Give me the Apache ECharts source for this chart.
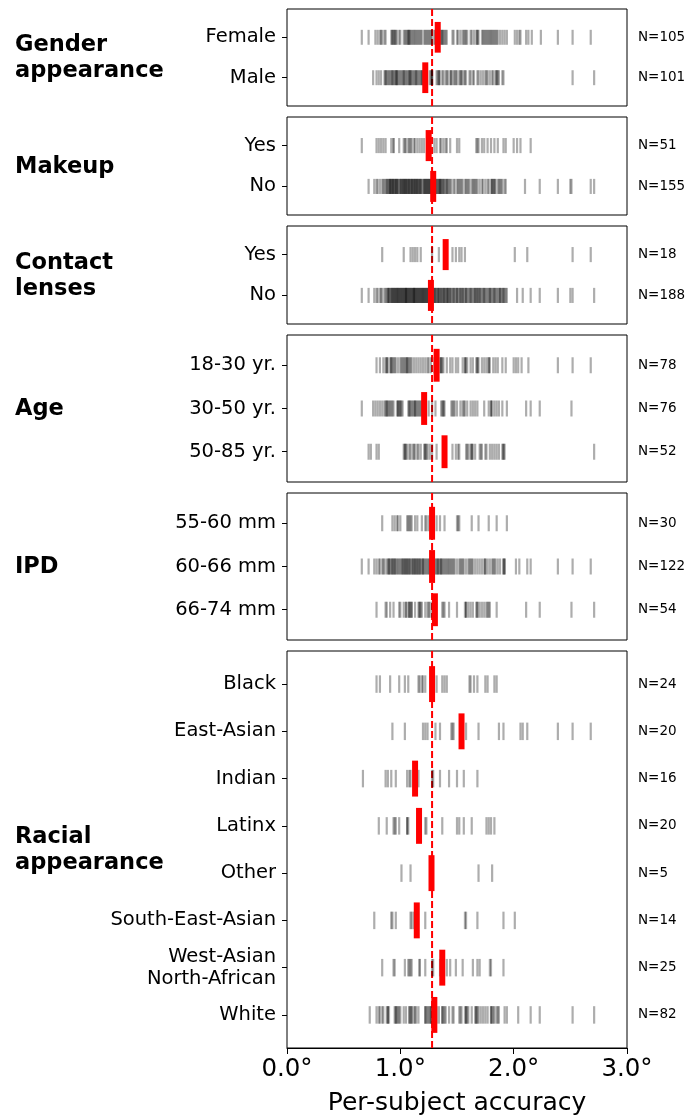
<!DOCTYPE html>
<html><head><meta charset="utf-8">
<script src="https://cdn.jsdelivr.net/npm/echarts@6/dist/echarts.min.js"></script>
<style>html,body{margin:0;padding:0;background:#fff}#chart{width:697px;height:1120px}</style>
</head><body><div id="chart"></div>
<script>
// ---------- data ----------
const groupTitles = ['Gender\nappearance', 'Makeup', 'Contact\nlenses', 'Age', 'IPD', 'Racial\nappearance'];
const genderCats = ['Female', 'Male'];
const makeupCats = ['Yes', 'No'];
const contactCats = ['Yes', 'No'];
const ageCats = ['18-30 yr.', '30-50 yr.', '50-85 yr.'];
const ipdCats = ['55-60 mm', '60-66 mm', '66-74 mm'];
const racialCats = ['Black', 'East-Asian', 'Indian', 'Latinx', 'Other', 'South-East-Asian', 'West-Asian\nNorth-African', 'White'];

const genderNs = [105, 101];
const makeupNs = [51, 155];
const contactNs = [18, 188];
const ageNs = [78, 76, 52];
const ipdNs = [30, 122, 54];
const racialNs = [24, 20, 16, 20, 5, 14, 25, 82];

const genderMeans = [1.33, 1.22];
const makeupMeans = [1.25, 1.29];
const contactMeans = [1.40, 1.27];
const ageMeans = [1.32, 1.21, 1.39];
const ipdMeans = [1.28, 1.28, 1.305];
const racialMeans = [1.28, 1.54, 1.13, 1.165, 1.275, 1.145, 1.37, 1.30];
const overallMean = 1.28;

const xTickLabels = ['0.0°', '1.0°', '2.0°', '3.0°'];
const xAxisTitle = 'Per-subject accuracy';

const femaleVals = [0.66,0.72,0.78,0.80,0.82,0.83,0.84,0.86,0.87,0.92,0.93,0.93,0.94,0.95,0.96,0.97,0.99,1.00,1.03,1.04,
1.06,1.07,1.07,1.08,1.09,1.10,1.11,1.12,1.14,1.15,1.16,1.17,1.19,1.21,1.22,1.23,1.24,1.25,1.26,1.27,
1.28,1.30,1.31,1.33,1.35,1.36,1.37,1.37,1.38,1.40,1.41,1.46,1.47,1.50,1.51,1.53,1.55,1.56,1.57,1.58,
1.59,1.62,1.63,1.65,1.67,1.68,1.68,1.69,1.72,1.73,1.74,1.76,1.77,1.78,1.79,1.80,1.81,1.82,1.83,1.85,
1.86,1.88,1.90,1.92,1.94,2.01,2.03,2.05,2.06,2.11,2.13,2.16,2.24,2.39,2.52,2.68,0.95,1.05,1.08,1.13,
1.18,1.34,1.39,1.75,1.84];
const maleVals = [0.76,0.79,0.81,0.83,0.86,0.87,0.88,0.89,0.90,0.91,0.92,0.93,0.94,0.95,0.96,0.97,0.98,0.99,1.00,1.01,
1.02,1.03,1.04,1.05,1.07,1.08,1.08,1.09,1.10,1.12,1.13,1.14,1.15,1.16,1.17,1.18,1.19,1.20,1.21,1.26,
1.27,1.28,1.28,1.32,1.33,1.34,1.35,1.37,1.38,1.40,1.41,1.42,1.44,1.45,1.47,1.48,1.49,1.50,1.52,1.53,
1.54,1.56,1.57,1.58,1.61,1.62,1.64,1.65,1.68,1.69,1.71,1.73,1.75,1.76,1.77,1.79,1.81,1.82,1.84,1.85,
1.86,1.87,1.90,1.91,2.52,2.71,0.87,0.93,0.96,0.97,1.03,1.06,1.09,1.11,1.14,1.19,1.28,1.34,1.45,1.54,1.85];

const makeupYesVals = [0.66,0.79,0.81,0.83,0.85,0.87,0.92,0.94,0.94,0.99,1.03,1.04,1.05,1.07,1.08,1.09,1.12,1.13,1.15,1.17,
1.19,1.21,1.24,1.26,1.30,1.32,1.35,1.38,1.40,1.41,1.44,1.50,1.52,1.67,1.68,1.69,1.72,1.74,1.77,1.80,
1.83,1.86,1.91,1.93,2.00,2.03,2.06,2.15,1.10,1.36,1.25];
const makeupNoVals = [0.72,0.77,0.79,0.80,0.82,0.84,0.85,0.86,0.871,0.884,0.893,0.905,0.912,0.921,0.933,0.938,0.951,0.962,0.968,0.981,
0.993,1.002,1.011,1.024,1.031,1.043,1.048,1.061,1.072,1.079,1.091,1.103,1.108,1.122,1.131,1.142,1.149,1.161,1.172,1.181,
0.90,0.92,0.95,0.97,1.00,1.02,1.05,1.07,1.09,1.12,1.15,1.18,0.93,1.03,1.10,1.20,1.21,1.22,1.23,1.24,
1.25,1.26,1.27,1.28,1.22,1.25,1.30,1.31,1.32,1.33,1.34,1.35,1.36,1.37,1.38,1.39,1.40,1.41,1.42,1.43,
1.44,1.45,1.32,1.35,1.38,1.41,1.47,1.48,1.50,1.51,1.53,1.54,1.55,1.57,1.58,1.60,1.61,1.63,1.64,1.65,
1.67,1.68,1.70,1.52,1.59,1.66,1.72,1.73,1.75,1.77,1.78,1.80,1.81,1.82,1.83,1.84,1.86,1.87,1.89,1.90,
1.92,1.93,1.81,1.83,1.88,2.10,2.23,2.39,2.50,2.51,2.68,2.71,0.88,0.91,0.94,0.96,0.98,1.01,1.04,1.06,
1.08,1.11,1.13,1.14,1.16,1.17,1.19,1.21,1.23,1.24,1.26,1.27,1.29,1.34,1.36];

const contactYesVals = [0.84,1.03,1.09,1.11,1.13,1.15,1.18,1.28,1.34,1.46,1.49,1.52,1.54,1.57,2.01,2.12,2.52,2.68];
const contactNoVals = [0.66,0.72,0.77,0.79,0.80,0.82,0.83,0.84,0.86,0.87,0.88,0.89,0.89,0.90,0.91,0.92,0.92,0.93,0.94,0.95,
0.95,0.96,0.97,0.97,0.98,0.99,1.00,1.00,1.01,1.02,1.03,1.03,1.04,1.05,1.05,1.06,1.07,1.07,1.08,1.09,
1.09,1.10,1.11,1.12,1.12,1.13,1.14,1.14,1.15,1.16,1.17,1.17,1.18,1.19,1.20,1.20,1.21,1.22,1.23,1.23,
1.24,1.25,1.25,1.26,1.27,1.28,1.30,1.30,1.31,1.32,1.33,1.34,1.34,1.35,1.36,1.37,1.38,1.38,1.39,1.40,
1.41,1.42,1.42,1.43,1.44,1.45,1.46,1.47,1.48,1.49,1.50,1.51,1.52,1.53,1.53,1.54,1.55,1.56,1.57,1.58,
1.59,1.60,1.61,1.62,1.63,1.64,1.65,1.66,1.67,1.68,1.68,1.69,1.70,1.71,1.72,1.73,1.74,1.75,1.76,1.77,
1.78,1.79,1.80,1.81,1.82,1.83,1.84,1.85,1.86,1.87,1.88,1.89,1.90,1.91,1.91,1.92,1.93,1.94,2.03,2.08,
2.15,2.23,2.39,2.50,2.52,2.71,0.90,0.93,0.96,0.98,1.01,1.02,1.04,1.06,1.08,1.10,1.11,1.13,1.15,1.16,
1.18,1.19,1.21,1.22,1.24,1.26,1.31,1.33,1.36,1.39,1.41,1.44,1.50,1.55,1.58,1.62,1.66,1.70,1.74,1.79,
1.83,1.88,0.94,0.99,1.05,1.12,1.29,1.47];

const age1830Vals = [0.79,0.82,0.85,0.87,0.88,0.89,0.91,0.92,0.93,0.95,0.96,0.98,1.00,1.01,1.02,1.04,1.05,1.06,1.07,1.08,
1.10,1.12,1.14,1.16,1.18,1.20,1.22,1.24,1.25,1.27,1.30,1.32,1.35,1.36,1.37,1.38,1.41,1.44,1.46,1.49,
1.51,1.55,1.57,1.58,1.59,1.62,1.64,1.67,1.68,1.69,1.72,1.74,1.76,1.78,1.79,1.82,1.84,1.86,1.90,1.93,
2.00,2.02,2.04,2.07,2.13,2.39,2.52,2.68,0.88,0.92,0.94,1.03,1.06,1.09,1.36,1.57,1.68,1.78];
const age3050Vals = [0.66,0.76,0.78,0.80,0.82,0.84,0.86,0.87,0.88,0.89,0.91,0.93,0.94,0.97,0.98,0.99,1.00,1.01,1.02,1.07,
1.08,1.09,1.11,1.12,1.13,1.14,1.15,1.17,1.19,1.21,1.25,1.28,1.31,1.37,1.38,1.39,1.45,1.47,1.48,1.50,
1.53,1.55,1.57,1.59,1.62,1.64,1.66,1.68,1.74,1.78,1.80,1.81,1.83,1.87,1.90,1.94,2.11,2.15,2.23,2.51,
0.88,0.90,0.92,0.98,1.00,1.08,1.10,1.13,1.16,1.18,1.38,1.46,1.80,1.36,1.56,1.85];
const age5085Vals = [0.72,0.74,0.79,0.81,1.03,1.04,1.05,1.06,1.08,1.09,1.11,1.12,1.13,1.15,1.16,1.18,1.21,1.22,1.23,1.24,
1.26,1.28,1.32,1.46,1.49,1.51,1.52,1.58,1.59,1.60,1.62,1.63,1.64,1.66,1.70,1.71,1.72,1.75,1.76,1.79,
1.81,1.83,1.85,1.87,1.90,1.91,1.92,2.71,1.04,1.22,1.63,1.91];

const ipd5560Vals = [0.84,0.93,0.95,0.97,1.00,1.06,1.07,1.09,1.10,1.13,1.15,1.19,1.22,1.25,1.27,1.29,1.32,1.35,1.39,1.50,
1.51,1.52,1.63,1.69,1.78,1.85,1.94,1.08,0.98,1.23];
const ipd6066Vals = [0.66,0.72,0.77,0.79,0.81,0.82,0.84,0.85,0.86,0.88,0.89,0.90,0.91,0.92,0.93,0.94,0.95,0.97,0.99,1.00,
1.01,1.02,1.03,1.04,1.05,1.06,1.07,1.08,1.09,1.10,1.11,1.12,1.13,1.14,1.15,1.16,1.17,1.18,1.19,1.20,
1.21,1.22,1.24,1.25,1.26,1.27,1.29,1.31,1.32,1.33,1.34,1.35,1.36,1.37,1.39,1.40,1.41,1.43,1.44,1.45,
1.46,1.48,1.50,1.52,1.53,1.55,1.56,1.58,1.60,1.61,1.63,1.64,1.66,1.68,1.70,1.72,1.74,1.75,1.77,1.79,
1.81,1.82,1.84,1.86,1.88,1.91,1.92,2.02,2.05,2.12,2.15,2.39,2.52,2.68,0.90,0.93,0.95,0.96,0.98,1.02,
1.04,1.06,1.08,1.11,1.13,1.15,1.17,1.20,1.23,1.26,1.30,1.33,1.36,1.38,1.42,1.47,1.54,1.62,1.75,1.83,
1.91,1.92];
const ipd6674Vals = [0.79,0.87,0.88,0.91,0.94,0.99,1.00,1.03,1.05,1.07,1.08,1.09,1.10,1.13,1.16,1.17,1.19,1.22,1.24,1.26,
1.28,1.30,1.37,1.39,1.43,1.50,1.57,1.58,1.60,1.62,1.64,1.67,1.68,1.70,1.72,1.74,1.76,1.78,1.79,1.85,
2.11,2.23,2.51,2.71,1.08,1.10,1.17,1.18,1.38,1.58,1.68,1.77,1.05,1.25];

const blackVals = [0.79,0.82,0.91,0.99,1.04,1.07,1.16,1.17,1.19,1.20,1.22,1.27,1.32,1.37,1.39,1.41,1.61,1.62,1.65,1.68,1.75,1.77,1.83,1.85];
const eastAsianVals = [0.93,1.04,1.20,1.22,1.24,1.31,1.35,1.45,1.46,1.47,1.58,1.69,1.87,1.91,2.06,2.08,2.12,2.39,2.52,2.68];
const indianVals = [0.67,0.87,0.89,0.92,0.96,1.06,1.08,1.09,1.16,1.28,1.29,1.35,1.43,1.50,1.56,1.68];
const latinxVals = [0.81,0.88,0.94,0.95,0.96,0.99,1.06,1.06,1.07,1.22,1.23,1.37,1.50,1.52,1.56,1.63,1.76,1.78,1.80,1.83];
const otherVals = [1.01,1.09,1.27,1.69,1.81];
const seaVals = [0.77,0.92,0.93,0.96,1.09,1.10,1.12,1.14,1.22,1.57,1.58,1.68,1.91,2.01];
const wanaVals = [0.84,0.94,0.95,1.04,1.07,1.08,1.09,1.10,1.17,1.17,1.22,1.28,1.29,1.35,1.38,1.41,1.44,1.49,1.55,1.64,1.68,1.70,1.79,1.80,1.91];
const whiteVals = [0.73,0.79,0.81,0.82,0.84,0.85,0.88,0.89,0.90,0.95,0.96,0.97,0.99,1.00,1.03,1.05,1.08,1.09,1.10,1.12,
1.14,1.16,1.22,1.23,1.25,1.26,1.27,1.28,1.30,1.32,1.34,1.37,1.38,1.40,1.43,1.46,1.47,1.52,1.54,1.57,
1.58,1.60,1.63,1.66,1.67,1.69,1.71,1.73,1.75,1.77,1.80,1.81,1.83,1.85,1.87,1.92,1.94,2.04,2.15,2.23,
2.52,2.71,0.89,0.96,0.98,1.08,1.10,1.22,1.24,1.27,1.29,1.37,1.39,1.53,1.58,1.59,1.67,1.68,1.80,1.82,
1.86,1.13];

// ---------- structure ----------
const panels = [
  {title: groupTitles[0], cats: genderCats, ns: genderNs, means: genderMeans, vals: [femaleVals, maleVals]},
  {title: groupTitles[1], cats: makeupCats, ns: makeupNs, means: makeupMeans, vals: [makeupYesVals, makeupNoVals]},
  {title: groupTitles[2], cats: contactCats, ns: contactNs, means: contactMeans, vals: [contactYesVals, contactNoVals]},
  {title: groupTitles[3], cats: ageCats, ns: ageNs, means: ageMeans, vals: [age1830Vals, age3050Vals, age5085Vals]},
  {title: groupTitles[4], cats: ipdCats, ns: ipdNs, means: ipdMeans, vals: [ipd5560Vals, ipd6066Vals, ipd6674Vals]},
  {title: groupTitles[5], cats: racialCats, ns: racialNs, means: racialMeans,
   vals: [blackVals, eastAsianVals, indianVals, latinxVals, otherVals, seaVals, wanaVals, whiteVals]}
];

// ---------- layout ----------
const panelTops = [9, 117, 226, 335, 493, 651];
const panelHeights = [97, 98, 98, 147, 147, 397];
const PAD = 0.7;
const FONT = 'DejaVu Sans';

const option = {
  animation: false,
  textStyle: {fontFamily: FONT, color: '#000'},
  grid: [], xAxis: [], yAxis: [], series: [], graphic: []
};

panels.forEach((p, i) => {
  const n = p.cats.length;
  const rows = p.cats.map((_, k) => k);
  const last = i === panels.length - 1;
  const ymin = -PAD, ymax = n - 1 + PAD;
  option.grid.push({left: 287, right: 70, top: panelTops[i], height: panelHeights[i],
    show: true, borderColor: '#000', borderWidth: 1, backgroundColor: 'transparent'});
  option.xAxis.push({gridIndex: i, type: 'value', min: 0, max: 3, interval: 1, show: last,
    position: 'bottom',
    axisLine: {show: true, onZero: false, lineStyle: {color: '#000', width: 1}},
    splitLine: {show: false},
    axisTick: {show: true, length: 6, lineStyle: {color: '#000', width: 1}},
    axisLabel: {fontSize: 24.5, color: '#000', fontFamily: FONT, margin: 9,
      formatter: v => xTickLabels[Math.round(v)]},
    name: last ? xAxisTitle : '', nameLocation: 'middle', nameGap: 43,
    nameTextStyle: {fontSize: 25, color: '#000', fontFamily: FONT}});
  option.yAxis.push({gridIndex: i, type: 'value', inverse: true, min: ymin, max: ymax,
    axisLine: {show: false, onZero: false}, splitLine: {show: false},
    axisTick: {show: true, length: 5, customValues: rows, lineStyle: {color: '#000', width: 1}},
    axisLabel: {customValues: rows, formatter: v => p.cats[Math.round(v)], fontSize: 19.5,
      color: '#000', fontFamily: FONT, margin: 11, lineHeight: 22, padding: [4, 0, 0, 0]}});
  option.yAxis.push({gridIndex: i, type: 'value', position: 'right', inverse: true, min: ymin, max: ymax,
    axisLine: {show: false, onZero: false}, splitLine: {show: false}, axisTick: {show: false},
    axisLabel: {customValues: rows, formatter: v => 'N=' + p.ns[Math.round(v)], fontSize: 13.5,
      color: '#000', fontFamily: FONT, margin: 11, padding: [4, 0, 0, 0]}});

  // dashed overall line
  option.series.push({type: 'custom', xAxisIndex: i, yAxisIndex: 2 * i, silent: true, z: 1,
    data: [[overallMean, 0]], encode: {x: 0, y: 1},
    renderItem: (params, api) => {
      const a = api.coord([api.value(0), ymin]), b = api.coord([api.value(0), ymax]);
      return {type: 'line', shape: {x1: a[0], y1: a[1], x2: b[0], y2: b[1]},
        style: {stroke: '#ff0000', lineWidth: 2, lineDash: [7, 3]}};
    }});
  // per-subject ticks
  const tickData = [];
  p.vals.forEach((arr, r) => arr.forEach(v => tickData.push([v, r])));
  option.series.push({type: 'custom', xAxisIndex: i, yAxisIndex: 2 * i, silent: true, z: 2,
    data: tickData, encode: {x: 0, y: 1},
    renderItem: (params, api) => {
      const a = api.coord([api.value(0), api.value(1) - 0.185]);
      const b = api.coord([api.value(0), api.value(1) + 0.185]);
      return {type: 'line', shape: {x1: a[0], y1: a[1], x2: b[0], y2: b[1]},
        style: {stroke: 'rgba(0,0,0,0.32)', lineWidth: 2.2}};
    }});
  // mean bars
  option.series.push({type: 'custom', xAxisIndex: i, yAxisIndex: 2 * i, silent: true, z: 3,
    data: p.means.map((m, r) => [m, r]), encode: {x: 0, y: 1},
    renderItem: (params, api) => {
      const a = api.coord([api.value(0), api.value(1) - 0.38]);
      const b = api.coord([api.value(0), api.value(1) + 0.38]);
      return {type: 'rect', shape: {x: a[0] - 3, y: Math.min(a[1], b[1]), width: 6, height: Math.abs(b[1] - a[1])},
        style: {fill: '#ff0000'}};
    }});
  // group title
  option.graphic.push({type: 'text', x: 15, y: panelTops[i] + panelHeights[i] / 2 + 1, silent: true,
    style: {text: p.title, fontSize: 22.5, fontWeight: 'bold', fontFamily: FONT, fill: '#000',
      align: 'left', verticalAlign: 'middle', lineHeight: 26}});
});

const chart = echarts.init(document.getElementById('chart'), null, {renderer: 'canvas'});
chart.setOption(option);
</script>
</body></html>
